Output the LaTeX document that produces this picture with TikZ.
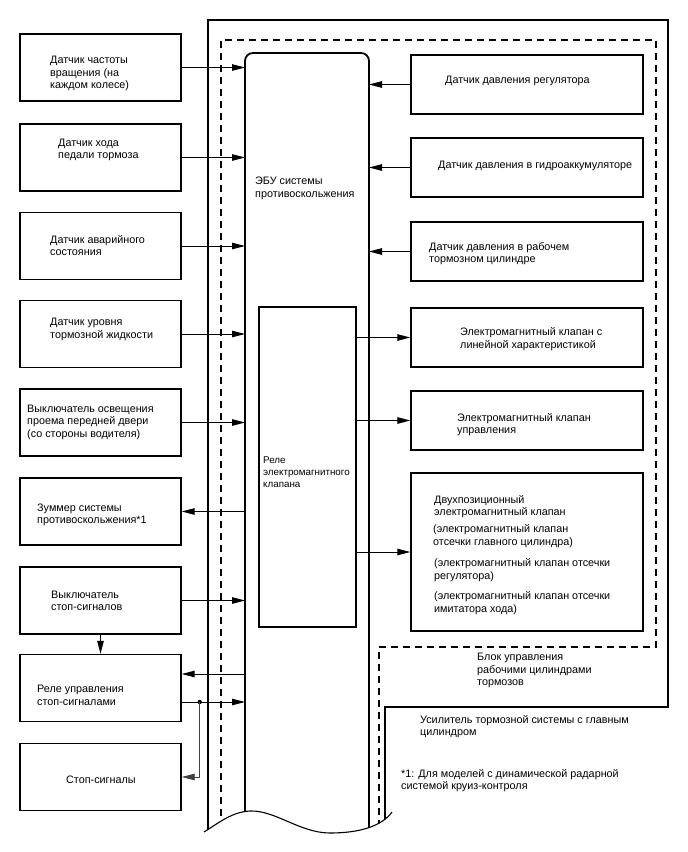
\documentclass[tikz,border=0pt]{standalone}
\usepackage{fontspec}
\setmainfont{Liberation Sans}
\usetikzlibrary{arrows.meta}
\tikzset{
  box/.style={draw, line width=1.4pt, minimum width=161pt, minimum height=67pt, inner sep=0pt},
  rbox/.style={draw, line width=1.4pt, minimum width=232pt, minimum height=59pt, inner sep=0pt},
  txt/.style={anchor=west, align=left, inner sep=0pt, font=\fontsize{10.8}{12.5}\selectfont},
  arr/.style={line width=1pt, -{Triangle[length=13pt,width=6.5pt]}},
  bound/.style={line width=1.3pt},
  dashbound/.style={line width=1.2pt, dash pattern=on 7pt off 5pt},
}
\begin{document}
\begin{tikzpicture}[x=1pt,y=-1pt]
\useasboundingbox (0,0) rectangle (688,852);

% boundaries clipped by wavy cut
\begin{scope}
\clip (204,832) .. controls (220,822) and (232,812) .. (250,811)
  .. controls (275,810) and (300,833) .. (330,833)
  .. controls (360,833) and (382,826) .. (392,812)
  -- (688,812) -- (688,0) -- (0,0) -- (0,832) -- cycle;
\draw[bound] (208,840) -- (208,20) -- (668,20) -- (668,707) -- (385,707) -- (385,840);
\draw[dashbound] (221,840) -- (221,40) -- (656,40) -- (656,647) -- (379,647) -- (379,840);
\draw[line width=1.8pt, rounded corners=8pt] (245,840) -- (245,53) -- (369,53) -- (369,840);
\end{scope}
\draw[line width=1.1pt] (204,832) .. controls (220,822) and (232,812) .. (250,811)
  .. controls (275,810) and (300,833) .. (330,833)
  .. controls (360,833) and (382,826) .. (392,812);

\coordinate (ecuL) at (245,0);
\coordinate (ecuR) at (369,0);

% ECU and relay
\node[txt] (ecutxt) at (255,188.5) {ЭБУ системы\\противоскольжения};
\node[draw, line width=1.4pt, minimum width=97pt, minimum height=320pt, inner sep=0pt] (relay) at (307.5,467) {};
\node[txt, font=\fontsize{9.8}{12}\selectfont] (reltxt) at (263,472) {Реле\\электромагнитного\\клапана};

% left boxes
\node[box] (l1) at (100.5,67.5) {};
\node[box] (l2) at (100.5,157.5) {};
\node[box] (l3) at (100.5,246) {};
\node[box] (l4) at (100.5,334) {};
\node[box] (l5) at (100.5,422.5) {};
\node[box] (l6) at (100.5,511.5) {};
\node[box] (l7) at (100.5,600.5) {};
\node[box] (l8) at (100.5,688) {};
\node[box] (l9) at (100.5,777) {};

\node[txt] (t1) at (50,73.5) {Датчик частоты\\вращения (на\\каждом колесе)};
\node[txt] (t2) at (58,150) {Датчик хода\\педали тормоза};
\node[txt] (t3) at (50,245.5) {Датчик аварийного\\состояния};
\node[txt] (t4) at (50,329.5) {Датчик уровня\\тормозной жидкости};
\node[txt] (t5) at (27,422) {Выключатель освещения\\проема передней двери\\(со стороны водителя)};
\node[txt] (t6) at (37,515) {Зуммер системы\\противоскольжения*1};
\node[txt] (t7) at (51,601) {Выключатель\\стоп-сигналов};
\node[txt] (t8) at (37,695.5) {Реле управления\\стоп-сигналами};
\node[txt] (t9) at (66,780) {Стоп-сигналы};

% right boxes
\node[rbox] (r1) at (527,84.5) {};
\node[rbox] (r2) at (527,167.5) {};
\node[rbox] (r3) at (527,251.5) {};
\node[rbox] (r4) at (527,337.5) {};
\node[rbox] (r5) at (527,420.5) {};
\node[rbox, minimum height=158pt] (r6) at (527,552) {};

\node[txt] (s1) at (445,81) {Датчик давления регулятора};
\node[txt] (s2) at (438,166) {Датчик давления в гидроаккумуляторе};
\node[txt] (s3) at (429,253.5) {Датчик давления в рабочем\\тормозном цилиндре};
\node[txt] (s4) at (460,339) {Электромагнитный клапан с\\линейной характеристикой};
\node[txt] (s5) at (457,424.5) {Электромагнитный клапан\\управления};
\node[txt] (s6a) at (434,506.5) {Двухпозиционный\\электромагнитный клапан};
\node[txt] (s6b) at (433,536) {(электромагнитный клапан\\отсечки главного цилиндра)};
\node[txt] (s6c) at (434,570) {(электромагнитный клапан отсечки\\регулятора)};
\node[txt] (s6d) at (434,603) {(электромагнитный клапан отсечки\\имитатора хода)};

% bottom labels
\node[txt] (blk) at (477,670.5) {Блок управления\\рабочими цилиндрами\\тормозов};
\node[txt] (amp) at (420,726.5) {Усилитель тормозной системы с главным\\цилиндром};
\node[txt] (fn) at (401,780.5) {*1: Для моделей с динамической радарной\\системой круиз-контроля};

% left connectors
\draw[arr] (l1.east) -- (l1.east -| ecuL);
\draw[arr] (l2.east) -- (l2.east -| ecuL);
\draw[arr] (l3.east) -- (l3.east -| ecuL);
\draw[arr] (l4.east) -- (l4.east -| ecuL);
\draw[arr] (l5.east) -- (l5.east -| ecuL);
\draw[arr] (l6.east -| ecuL) -- (l6.east);
\draw[arr] (l7.east) -- (l7.east -| ecuL);
\draw[arr] (l7.south) -- (l8.north);
\coordinate (l8in) at ([yshift=14pt]l8.east);
\coordinate (l8out) at ([yshift=-14pt]l8.east);
\draw[arr] (l8in -| ecuL) -- (l8in);
\draw[arr] (l8out) -- (l8out -| ecuL);
\coordinate (jn) at ([xshift=18pt]l8out);
\fill (jn) circle (2.2pt);
\draw[arr, line width=0.9pt, draw=black!75] (jn) |- (l9.east);

% right connectors
\draw[arr] (r1.west) -- (r1.west -| ecuR);
\draw[arr] (r2.west) -- (r2.west -| ecuR);
\draw[arr] (r3.west) -- (r3.west -| ecuR);
\draw[arr] (r4.west -| relay.east) -- (r4.west);
\draw[arr] (r5.west -| relay.east) -- (r5.west);
\draw[arr] (r6.west -| relay.east) -- (r6.west);
\end{tikzpicture}
\end{document}
